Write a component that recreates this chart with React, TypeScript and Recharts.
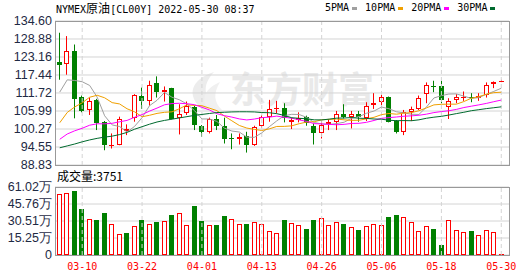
import React from "react";
import {
  ComposedChart,
  Bar,
  Line,
  XAxis,
  YAxis,
  CartesianGrid,
  ReferenceLine,
} from "recharts";

const dates = [
  "03-07", "03-08", "03-09", "03-10", "03-11", "03-14", "03-15", "03-16", "03-17", "03-18",
  "03-21", "03-22", "03-23", "03-24", "03-25", "03-28", "03-29", "03-30", "03-31", "04-01",
  "04-04", "04-05", "04-06", "04-07", "04-08", "04-11", "04-12", "04-13", "04-14", "04-18",
  "04-19", "04-20", "04-21", "04-22", "04-25", "04-26", "04-27", "04-28", "04-29", "05-02",
  "05-03", "05-04", "05-05", "05-06", "05-09", "05-10", "05-11", "05-12", "05-13", "05-16",
  "05-17", "05-18", "05-19", "05-20", "05-23", "05-24", "05-25", "05-26", "05-27", "05-30",
];

const opens = [
  121.58, 121.05, 125.0, 110.49, 106.33, 109.53, 102.38, 94.91, 95.34, 99.61,
  103.66, 110.91, 109.21, 114.76, 111.98, 113.15, 103.66, 105.26, 107.29, 101.31,
  99.18, 103.45, 101.31, 97.26, 97.05, 98.0, 95.34, 101.31, 104.19, 106.65,
  107.07, 102.59, 103.13, 104.19, 101.31, 98.86, 101.74, 102.38, 105.15, 104.19,
  105.15, 103.66, 107.93, 108.78, 110.6, 102.81, 99.39, 105.79, 106.65, 111.34,
  114.01, 113.8, 107.39, 109.53, 110.27, 110.6, 110.27, 111.13, 114.54, 115.29,
];
const highs = [
  130.87, 129.8, 127.13, 110.9, 110.27, 109.85, 102.81, 98.86, 104.19, 101.74,
  111.34, 113.48, 115.61, 117.0, 113.8, 113.37, 108.14, 109.0, 107.71, 101.53,
  103.87, 104.73, 103.87, 98.86, 98.86, 99.39, 101.31, 104.73, 109.53, 109.21,
  108.46, 103.87, 105.58, 104.51, 102.06, 102.81, 103.45, 106.01, 108.14, 106.01,
  106.01, 108.78, 111.66, 111.34, 110.6, 103.13, 106.33, 107.39, 110.91, 115.08,
  115.61, 115.61, 110.06, 111.34, 112.2, 111.66, 111.66, 115.08, 115.4, 115.93,
];
const lows = [
  115.93, 117.53, 103.66, 105.58, 104.73, 99.93, 93.52, 94.06, 95.12, 98.33,
  102.59, 106.65, 107.71, 110.27, 109.0, 103.34, 98.54, 104.73, 99.93, 97.79,
  98.86, 99.93, 95.66, 93.84, 95.34, 92.78, 94.91, 100.67, 102.59, 105.26,
  102.38, 100.25, 102.38, 101.31, 95.34, 97.26, 99.93, 99.93, 103.66, 100.46,
  102.59, 102.81, 106.65, 106.65, 102.38, 98.86, 98.33, 102.81, 106.33, 108.46,
  111.98, 108.46, 103.45, 108.46, 109.21, 108.78, 109.21, 110.27, 113.26, 115.18,
];
const closes = [
  120.62, 125.0, 109.74, 106.0, 109.21, 102.06, 95.34, 95.23, 103.45, 100.35,
  111.13, 109.21, 114.33, 111.98, 112.73, 103.55, 105.15, 107.71, 101.53, 99.39,
  103.45, 101.31, 97.05, 96.94, 97.79, 95.34, 100.99, 104.19, 106.65, 107.07,
  103.66, 103.13, 103.87, 102.06, 98.86, 101.53, 102.38, 105.15, 104.19, 105.15,
  104.19, 107.71, 108.67, 110.6, 102.38, 99.39, 105.79, 106.65, 110.27, 114.12,
  113.8, 109.53, 109.21, 110.49, 110.6, 110.06, 110.91, 114.33, 115.18, 115.61,
];

const ma5 = [
  112.0, 115.9, 115.7, 115.3, 114.11, 110.4, 104.47, 101.57, 101.06, 99.29,
  101.1, 103.87, 107.69, 109.4, 111.88, 110.36, 109.55, 108.22, 106.13, 103.47,
  103.45, 102.68, 100.55, 99.63, 99.31, 97.69, 97.62, 99.05, 100.99, 102.85,
  104.51, 104.94, 104.88, 103.96, 102.32, 101.89, 101.74, 102.0, 102.42, 103.68,
  104.21, 105.28, 105.98, 107.26, 106.71, 105.75, 105.37, 104.96, 104.9, 107.24,
  110.13, 110.87, 111.39, 111.43, 110.73, 109.98, 110.25, 111.28, 112.22, 113.22,
];
const ma10 = [
  102.26, 105.52, 107.28, 108.6, 110.37, 111.0, 110.19, 108.66, 108.23, 106.7,
  105.75, 104.17, 104.63, 105.23, 105.58, 105.73, 106.71, 107.96, 107.77, 107.67,
  106.9, 106.11, 104.39, 102.88, 101.39, 100.57, 100.15, 99.8, 100.31, 101.08,
  101.1, 101.28, 101.96, 102.48, 102.58, 103.2, 103.34, 103.44, 103.19, 103.0,
  103.05, 103.51, 103.99, 104.84, 105.2, 104.98, 105.32, 105.47, 106.08, 106.98,
  107.94, 108.12, 108.17, 108.16, 108.99, 110.05, 110.56, 111.33, 111.82, 111.97,
];
const ma20 = [
  97.0, 98.68, 99.7, 100.51, 101.48, 101.93, 101.92, 102.08, 102.57, 103.0,
  104.0, 104.85, 105.96, 106.92, 107.97, 108.36, 108.45, 108.31, 108.0, 107.19,
  106.33, 105.14, 104.51, 104.06, 103.48, 103.15, 103.43, 103.88, 104.04, 104.37,
  104.0, 103.7, 103.17, 102.68, 101.98, 101.88, 101.75, 101.62, 101.75, 102.04,
  102.08, 102.4, 102.98, 103.66, 103.89, 104.09, 104.33, 104.45, 104.64, 104.99,
  105.49, 105.81, 106.08, 106.5, 107.09, 107.52, 107.94, 108.4, 108.95, 109.47,
];
const ma30 = [
  94.3, 94.9, 95.5, 96.2, 96.8, 97.3, 97.7, 98.0, 98.5, 99.2,
  100.2, 101.0, 101.8, 102.5, 103.0, 103.4, 103.8, 104.2, 104.6, 104.9,
  105.2, 105.5, 105.6, 105.7, 105.75, 105.75, 105.7, 105.5, 105.45, 105.15,
  104.58, 103.86, 103.66, 103.53, 103.18, 103.17, 103.4, 103.73, 103.76, 103.92,
  103.68, 103.63, 103.45, 103.4, 103.05, 102.92, 102.94, 102.9, 103.19, 103.68,
  104.03, 104.3, 104.71, 105.16, 105.59, 106.08, 106.41, 106.75, 107.03, 107.32,
];

// 成交量, 单位: 万
const volumes = [
  55.1, 56.0, 57.1, 41.1, 32.7, 31.25, 37.5, 27.4, 18.5, 19.6,
  25.9, 31.25, 27.7, 29.8, 30.4, 35.7, 37.5, 26.8, 43.75, 30.4,
  26.8, 26.8, 34.8, 32.7, 27.4, 27.7, 29.2, 27.4, 21.4, 19.3,
  31.25, 28.3, 26.5, 23.2, 31.25, 33.6, 26.5, 29.5, 27.7, 24.7,
  22.3, 25.6, 27.4, 26.5, 33.9, 35.7, 34.5, 29.5, 21.1, 25.6,
  23.2, 8.9, 31.8, 22.3, 20.2, 21.4, 17.6, 22.3, 20.2, 0.3751,
];
// 1 = red (up), 0 = green
const volumeUp = [
  1, 1, 0, 0, 1, 0, 0, 1, 1, 0,
  1, 0, 1, 0, 1, 0, 1, 1, 0, 0,
  1, 0, 0, 1, 1, 0, 1, 1, 1, 1,
  0, 1, 1, 0, 0, 1, 1, 1, 0, 1,
  0, 1, 1, 1, 0, 0, 1, 1, 1, 1,
  0, 0, 1, 1, 1, 0, 1, 1, 1, 1,
];

const dateTicks = ["03-10", "03-22", "04-01", "04-13", "04-26", "05-06", "05-18", "05-30"];
const priceTicks = [88.83, 94.55, 100.27, 105.99, 111.72, 117.44, 123.16, 128.88, 134.6];
const volumeTicks = [0, 15.25, 30.51, 45.76, 61.02];

const RED = "#ff0000";
const GREEN = "#008000";
const GRID = "#d4d4d4";
const BORDER = "#999999";
const AXIS_TEXT = "#1e2a44";
const MONO = "'DejaVu Sans Mono', 'Liberation Mono', monospace";
const CJK = "'Noto Sans CJK SC', sans-serif";

const data = dates.map((date, i) => ({
  date,
  open: opens[i],
  high: highs[i],
  low: lows[i],
  close: closes[i],
  range: [lows[i], highs[i]],
  ma5: ma5[i],
  ma10: ma10[i],
  ma20: ma20[i],
  ma30: ma30[i],
  vol: volumes[i],
  volUp: volumeUp[i] === 1,
}));

function Candle(props: any) {
  const { x, y, width, height, payload } = props;
  if (!payload || height == null) return null;
  const { open, close, high, low } = payload;
  const up = close >= open;
  const color = up ? RED : GREEN;
  const k = high === low ? 0 : height / (high - low);
  const px = Math.floor(x + width / 2);
  const cx = px + 0.5;
  const top = Math.round(y + (high - Math.max(open, close)) * k);
  const bot = Math.max(Math.round(y + (high - Math.min(open, close)) * k), top + 1);
  if (up) {
    const h = bot - top;
    return (
      <g>
        <line x1={cx} x2={cx} y1={y} y2={top} stroke={color} />
        <line x1={cx} x2={cx} y1={bot} y2={y + height} stroke={color} />
        {h <= 2 ? (
          <rect x={px - 2} y={top} width={5} height={h} fill={color} />
        ) : (
          <rect x={px - 1.5} y={top + 0.5} width={4} height={h - 1} fill="#fff" stroke={color} />
        )}
      </g>
    );
  }
  return (
    <g>
      <line x1={cx} x2={cx} y1={y} y2={y + height} stroke={color} />
      <rect x={px - 2} y={top} width={5} height={bot - top} fill={color} />
    </g>
  );
}

function VolumeBar(props: any) {
  const { x, y, width, height, payload } = props;
  if (!payload || height == null) return null;
  const px = Math.floor(x + width / 2);
  const bottom = Math.round(y + height);
  const top = Math.min(Math.round(y), bottom - 1);
  const h = bottom - top;
  if (payload.volUp) {
    if (h <= 2) return <rect x={px - 2} y={top} width={5} height={h} fill={RED} />;
    return <rect x={px - 1.5} y={top + 0.5} width={4} height={h - 1} fill="#fff" stroke={RED} />;
  }
  return <rect x={px - 2} y={top} width={5} height={h} fill={GREEN} />;
}

const legendItems = [
  { name: "5PMA", color: "#a0a0a0" },
  { name: "10PMA", color: "#f0a000" },
  { name: "20PMA", color: "#ff00ff" },
  { name: "30PMA", color: "#006a2e" },
];

const axisTick = { fill: AXIS_TEXT, fontSize: 12.5, fontFamily: "'Liberation Sans', Arial, sans-serif" };

export default function App() {
  return (
    <div style={{ position: "absolute", left: 0, top: 0, width: 530, height: 276, background: "#fff", overflow: "hidden" }}>
      {/* watermark */}
      <svg width={530} height={276} style={{ position: "absolute", left: 0, top: 0 }}>
        <path d="M203,110 C186,96 190,80 214,72 C201,86 204,98 218,108 Z" fill="#ececec" />
        <path d="M208,110 C200,98 206,88 220,82 C213,94 214,102 222,110 Z" fill="#f0f0f0" />
        <text x={230} y={103} fontSize={36} fontWeight={700} fill="#e9e9e9" fontFamily={CJK}>
          东方财富
        </text>
      </svg>

      {/* title */}
      <div style={{ position: "absolute", left: 56, top: 1, fontFamily: MONO, fontSize: 10, lineHeight: "14px", color: "#000", whiteSpace: "nowrap" }}>
        NYMEX<span style={{ fontFamily: CJK, fontSize: 12 }}>原油</span>[CL00Y] 2022-05-30 08:37
      </div>

      {/* legend */}
      <div style={{ position: "absolute", left: 325, top: 1, display: "flex", alignItems: "center", fontFamily: MONO, fontSize: 10, lineHeight: "14px", color: "#000", whiteSpace: "nowrap" }}>
        {legendItems.map((it) => (
          <div key={it.name} style={{ display: "flex", alignItems: "center", marginRight: 8 }}>
            <span>{it.name}</span>
            <span style={{ display: "inline-block", width: 5, height: 3, background: it.color, marginLeft: 3, marginTop: 1 }} />
          </div>
        ))}
      </div>

      {/* price panel */}
      <div style={{ position: "absolute", left: 0, top: 0 }}>
        <ComposedChart width={530} height={178} data={data} margin={{ top: 21, right: 21, bottom: 13, left: 0 }}>
          <CartesianGrid vertical={false} stroke={GRID} />
          <XAxis dataKey="date" hide padding={{ left: 1, right: 4 }} />
          <YAxis
            domain={[88.83, 134.6]}
            ticks={priceTicks}
            interval={0}
            width={55}
            tick={axisTick}
            tickLine={false}
            axisLine={false}
            tickSize={2}
            tickMargin={1}
            tickFormatter={(v: number) => v.toFixed(2)}
          />
          {dateTicks.map((d) => (
            <ReferenceLine key={d} x={d} stroke={GRID} strokeDasharray="4 3" />
          ))}
          <Bar dataKey="range" barSize={5} shape={<Candle />} isAnimationActive={false} />
          <Line type="linear" dataKey="ma5" stroke={legendItems[0].color} strokeWidth={1} dot={false} isAnimationActive={false} />
          <Line type="linear" dataKey="ma10" stroke={legendItems[1].color} strokeWidth={1} dot={false} isAnimationActive={false} />
          <Line type="linear" dataKey="ma20" stroke={legendItems[2].color} strokeWidth={1} dot={false} isAnimationActive={false} />
          <Line type="linear" dataKey="ma30" stroke={legendItems[3].color} strokeWidth={1} dot={false} isAnimationActive={false} />
        </ComposedChart>
      </div>

      {/* volume panel */}
      <div style={{ position: "absolute", left: 0, top: 0 }}>
        <ComposedChart width={530} height={276} data={data} margin={{ top: 187, right: 21, bottom: 0, left: 0 }}>
          <CartesianGrid vertical={false} stroke={GRID} />
          <XAxis
            dataKey="date"
            ticks={dateTicks}
            interval={0}
            height={21}
            padding={{ left: 1, right: 4 }}
            tickLine={false}
            axisLine={false}
            tick={{ fill: RED, fontSize: 10, fontFamily: MONO }}
          />
          <YAxis
            domain={[0, 61.02]}
            ticks={volumeTicks}
            interval={0}
            width={55}
            tick={axisTick}
            tickLine={false}
            axisLine={false}
            tickSize={2}
            tickMargin={1}
            tickFormatter={(v: number) => (v === 0 ? "0" : v.toFixed(2) + "万")}
          />
          {dateTicks.map((d) => (
            <ReferenceLine key={d} x={d} stroke={GRID} strokeDasharray="4 3" />
          ))}
          <Bar dataKey="vol" barSize={5} shape={<VolumeBar />} isAnimationActive={false} />
        </ComposedChart>
      </div>

      {/* volume label */}
      <div style={{ position: "absolute", left: 57, top: 168, fontFamily: CJK, fontSize: 12, lineHeight: "16px", color: "#000", whiteSpace: "nowrap" }}>
        成交量:3751
      </div>

      {/* panel borders */}
      <div style={{ position: "absolute", left: 55, top: 21, width: 455, height: 145, boxSizing: "border-box", border: `1px solid ${BORDER}`, pointerEvents: "none" }} />
      <div style={{ position: "absolute", left: 55, top: 187, width: 455, height: 69, boxSizing: "border-box", border: `1px solid ${BORDER}`, pointerEvents: "none" }} />
    </div>
  );
}
